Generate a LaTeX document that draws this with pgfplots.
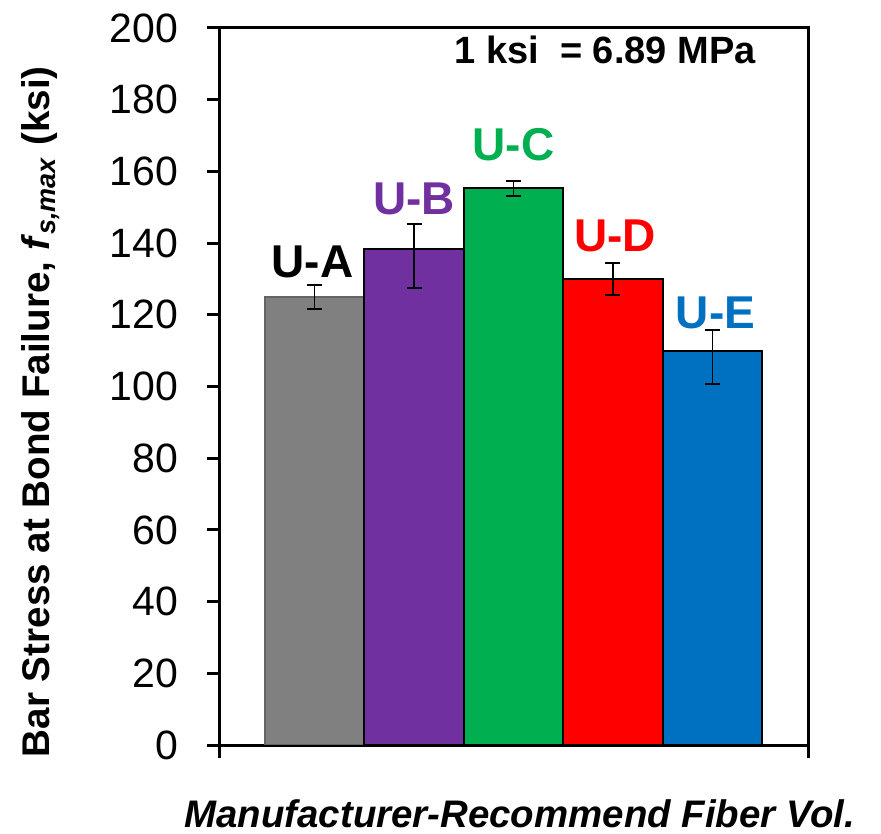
\documentclass[border=0pt]{standalone}
\usepackage{pgfplots}
\pgfplotsset{compat=1.18}
\usepackage{fontspec}
\setmainfont{Liberation Sans}
\definecolor{cA}{RGB}{128,128,128}
\definecolor{cAd}{RGB}{100,100,100}
\definecolor{cB}{RGB}{112,48,160}
\definecolor{cC}{RGB}{0,176,80}
\definecolor{cD}{RGB}{255,0,0}
\definecolor{cE}{RGB}{0,112,192}
\begin{document}
\begin{tikzpicture}
\begin{axis}[
  scale only axis, width=294bp, height=358.5bp,
  xmin=-0.95, xmax=4.96, ymin=0, ymax=200,
  ytick={0,20,...,200},
  xtick={-0.95,4.96}, xticklabels={},
  xtick pos=bottom, ytick pos=left, tick align=outside,
  major tick length=6.5bp,
  axis line style={line width=1.5bp, black},
  tick style={line width=1.5bp, black},
  /pgf/number format/assume math mode=true,
  yticklabel style={font=\fontsize{20.5bp}{23bp}\selectfont, xshift=-11bp},
  ybar, bar width=1, bar shift=0pt,
  error bars/error bar style={line width=0.9bp, black},
  error bars/error mark options={rotate=90, mark size=3.75bp, line width=0.9bp, black},
  xlabel={\textbf{\textit{Manufacturer-Recommend Fiber Vol.}}},
  xlabel style={at={(axis description cs:0.51,-0.115)}, anchor=base, font=\fontsize{19.2bp}{22bp}\selectfont},
  ylabel={\textbf{Bar Stress at Bond Failure, \textit{f}\textsubscript{\textit{s,max}} (ksi)}},
  ylabel style={at={(axis description cs:-0.305,0.465)}, anchor=center, font=\fontsize{19.3bp}{22bp}\selectfont},
]
\addplot[fill=cA, draw=cAd, line width=1bp, error bars/.cd, y dir=both, y explicit]
  coordinates {(0,125.0) += (0,3.3) -= (0,3.4)};
\addplot[fill=cB, draw=black, line width=1bp, error bars/.cd, y dir=both, y explicit]
  coordinates {(1,138.4) += (0,6.9) -= (0,10.9)};
\addplot[fill=cC, draw=black, line width=1bp, error bars/.cd, y dir=both, y explicit]
  coordinates {(2,155.4) += (0,1.9) -= (0,2.3)};
\addplot[fill=cD, draw=black, line width=1bp, error bars/.cd, y dir=both, y explicit]
  coordinates {(3,130.0) += (0,4.4) -= (0,4.5)};
\addplot[fill=cE, draw=black, line width=1bp, error bars/.cd, y dir=both, y explicit]
  coordinates {(4,109.9) += (0,5.9) -= (0,9.2)};
\node[font=\fontsize{23bp}{26bp}\selectfont\bfseries, text=black] at (axis cs:-0.02,134.7) {U-A};
\node[font=\fontsize{23bp}{26bp}\selectfont\bfseries, text=cB] at (axis cs:1,152.3) {U-B};
\node[font=\fontsize{23bp}{26bp}\selectfont\bfseries, text=cC] at (axis cs:2,167.4) {U-C};
\node[font=\fontsize{23bp}{26bp}\selectfont\bfseries, text=cD] at (axis cs:3.02,142.0) {U-D};
\node[font=\fontsize{23bp}{26bp}\selectfont\bfseries, text=cE] at (axis cs:4.03,120.5) {U-E};
\node[font=\fontsize{19bp}{22bp}\selectfont\bfseries] at (rel axis cs:0.655,0.969) {1 ksi~ = 6.89 MPa};
\end{axis}
\pgfresetboundingbox
\path (-110bp,-44.5bp) rectangle (330.5bp,372.5bp);
\end{tikzpicture}
\end{document}
